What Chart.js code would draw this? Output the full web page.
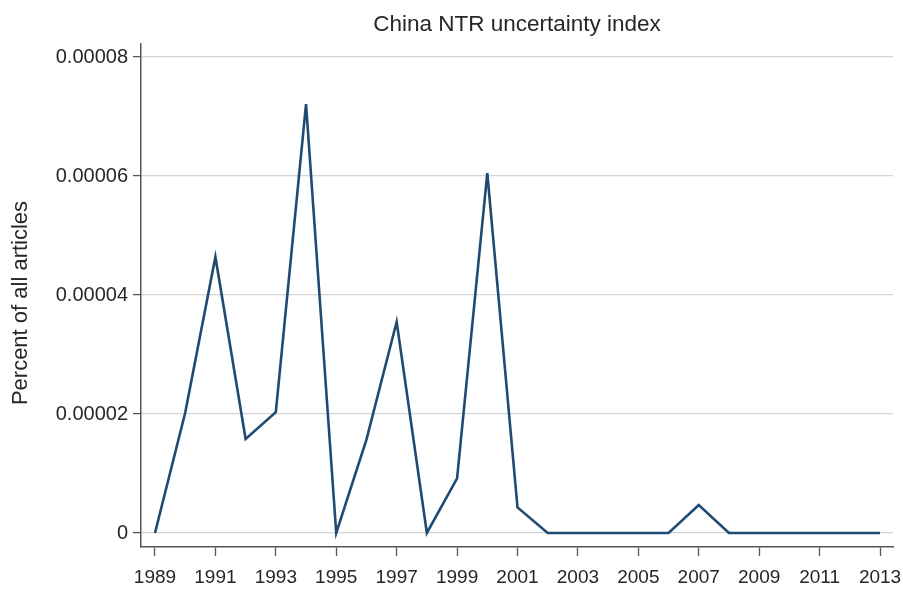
<!DOCTYPE html>
<html>
<head>
<meta charset="utf-8">
<script src="https://cdn.jsdelivr.net/npm/chart.js@4"></script>
<style>
  body { margin: 0; background: #fff; }
  #wrap { width: 903px; height: 589px; }
</style>
</head>
<body>
<div id="wrap"><canvas id="ntrChart"></canvas></div>
<script>
const years = [1989, 1990, 1991, 1992, 1993, 1994, 1995, 1996, 1997, 1998, 1999, 2000, 2001,
               2002, 2003, 2004, 2005, 2006, 2007, 2008, 2009, 2010, 2011, 2012, 2013];
const ntrIndex = [0, 0.0000202, 0.0000464, 0.0000158, 0.0000203, 0.0000721, 0, 0.0000157, 0.0000355, 0,
                  0.0000092, 0.0000605, 0.0000043, 0, 0, 0, 0, 0, 0.0000047, 0, 0, 0, 0, 0, 0];
const yTicks = [0, 0.00002, 0.00004, 0.00006, 0.00008];
const xTicks = [1989, 1991, 1993, 1995, 1997, 1999, 2001, 2003, 2005, 2007, 2009, 2011, 2013];

const fontFamily = '"Liberation Sans", Arial, Helvetica, sans-serif';
const axisColor = '#555';
const textColor = '#262626';

// title centred over the plot area, y title sits a bit below the middle like the original
const plotTitles = {
    id: 'plotTitles',
    afterDraw(chart) {
        const ctx = chart.ctx;
        const area = chart.chartArea;
        ctx.save();
        ctx.fillStyle = textColor;
        ctx.textAlign = 'center';
        ctx.font = '22.5px ' + fontFamily;
        ctx.textBaseline = 'alphabetic';
        ctx.fillText('China NTR uncertainty index', (area.left + area.right) / 2, 31);
        ctx.translate(21, 303);
        ctx.rotate(-Math.PI / 2);
        ctx.font = '22px ' + fontFamily;
        ctx.textBaseline = 'middle';
        ctx.fillText('Percent of all articles', 0, 0);
        ctx.restore();
    }
};

const ctx = document.getElementById('ntrChart').getContext('2d');
const myChart = new Chart(ctx, {
    type: 'line',
    data: {
        datasets: [{
            data: years.map((yr, i) => ({ x: yr, y: ntrIndex[i] })),
            borderColor: '#1f4b73',
            borderWidth: 2.6,
            borderJoinStyle: 'miter',
            pointRadius: 0,
            tension: 0,
            fill: false
        }]
    },
    options: {
        responsive: true,
        maintainAspectRatio: false,
        devicePixelRatio: 1,
        animation: false,
        layout: {
            padding: { top: 44, right: 10, bottom: 0, left: 0 }
        },
        plugins: {
            legend: { display: false },
            tooltip: { enabled: false }
        },
        scales: {
            x: {
                type: 'linear',
                min: 1988.537,
                max: 2013.43,
                afterBuildTicks: s => { s.ticks = xTicks.map(v => ({ value: v })); },
                afterFit: s => { s.height = 42; s.paddingLeft = 0; s.paddingRight = 0; },
                border: { color: axisColor, width: 1.5 },
                grid: {
                    color: 'rgba(0,0,0,0)',
                    tickColor: axisColor,
                    tickLength: 9,
                    tickWidth: 1.3
                },
                ticks: {
                    color: textColor,
                    padding: 10,
                    maxRotation: 0,
                    autoSkip: false,
                    font: { family: fontFamily, size: 19 },
                    callback: v => String(v)
                }
            },
            y: {
                min: -0.000002353,
                max: 0.0000821850,
                afterBuildTicks: s => { s.ticks = yTicks.map(v => ({ value: v })); },
                afterFit: s => { s.width = 141; s.paddingTop = 0; s.paddingBottom = 0; },
                border: { color: axisColor, width: 1.5 },
                grid: {
                    color: '#d4d4d4',
                    lineWidth: 1.2,
                    tickColor: axisColor,
                    tickLength: 8,
                    tickWidth: 1.3
                },
                ticks: {
                    color: textColor,
                    padding: 5,
                    autoSkip: false,
                    font: { family: fontFamily, size: 20 },
                    callback: v => (v === 0 ? '0' : v.toFixed(5))
                }
            }
        }
    },
    plugins: [plotTitles]
});
</script>
</body>
</html>
